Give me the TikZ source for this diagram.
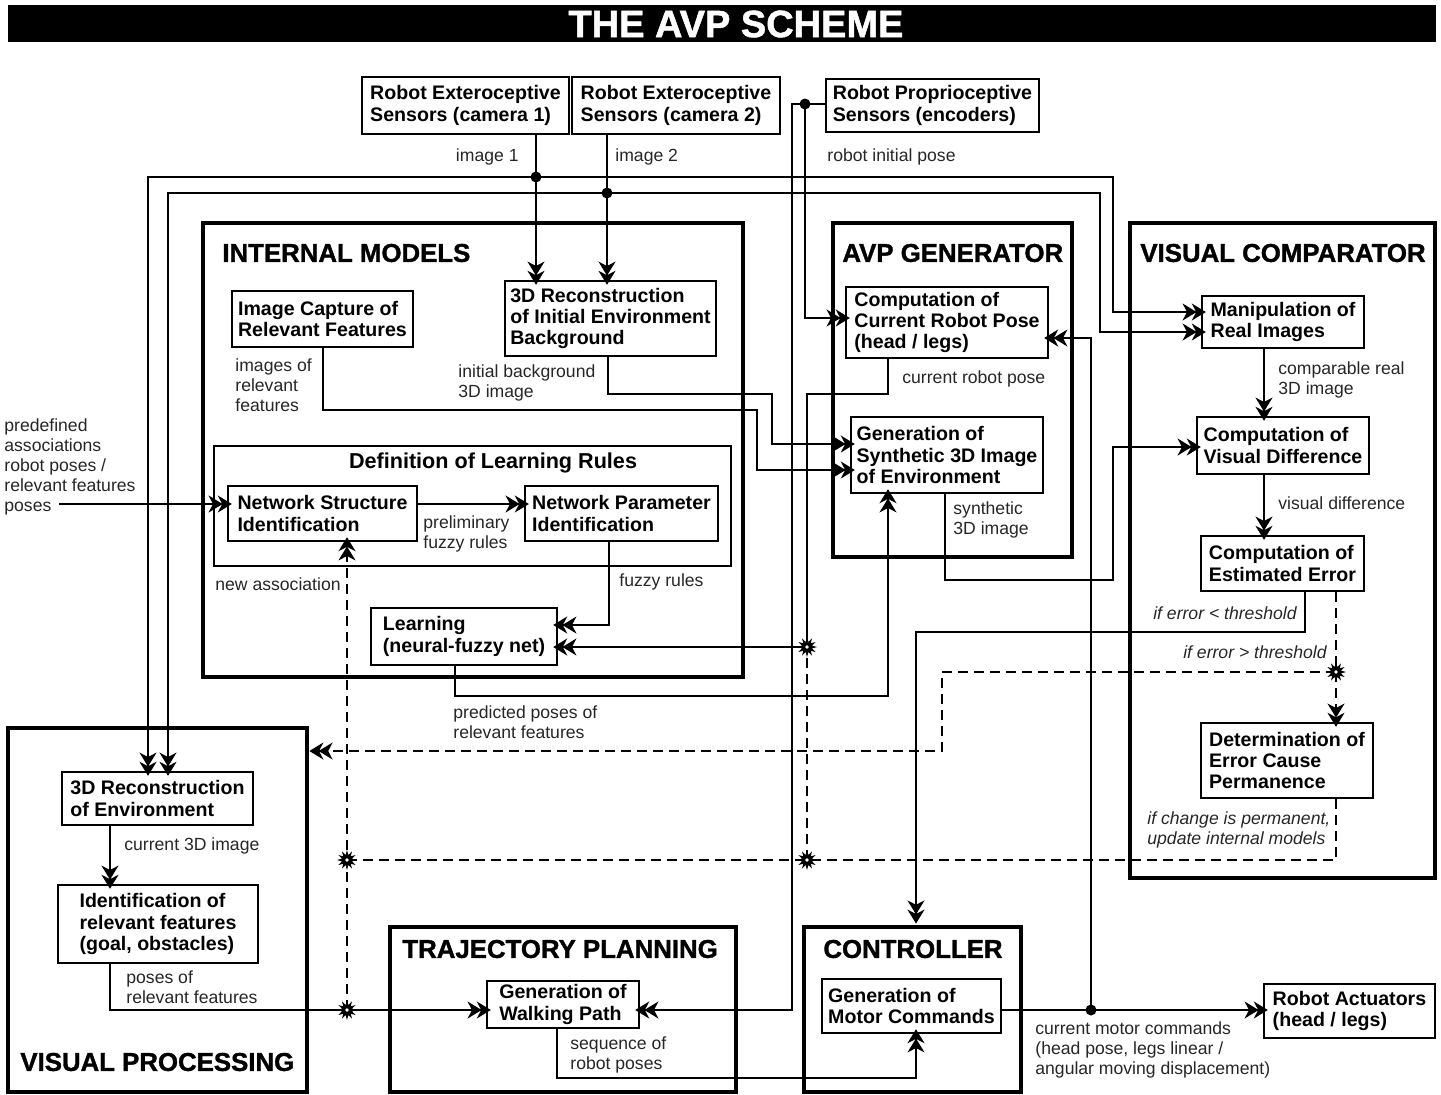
\documentclass[tikz,border=0pt]{standalone}
\usepackage{fontspec}
\setmainfont{Liberation Sans}
\newfontfamily\heavyfont[FakeBold=1.3]{Liberation Sans Bold}
\usetikzlibrary{arrows.meta,shapes.geometric}

\tikzset{
  dbl/.tip={Stealth[length=7pt,width=8.5pt,inset=2.2pt,sep=-2.4pt]Stealth[length=7pt,width=8.5pt,inset=2.2pt,sep=-2.4pt]},
  ln/.style={line width=0.9pt},
  arr/.style={ln,-{dbl}},
  darr/.style={ln,{dbl}-{dbl}},
  dsh/.style={ln,dash pattern=on 5pt off 3pt},
  wh/.style 2 args={minimum width=#1*0.5pt,minimum height=#2*0.5pt},
  blk/.style={draw,line width=1pt,align=left,inner sep=2pt,font=\fontsize{9.8}{10.6}\selectfont\bfseries},
  grp/.style={draw,line width=2.2pt,inner sep=0pt},
  ttl/.style={anchor=west,inner sep=0pt,font=\fontsize{12.9}{15}\selectfont\heavyfont},
  lbl/.style={align=left,inner sep=0pt,text=black!85,font=\fontsize{8.8}{9.9}\selectfont},
  ilbl/.style={lbl,font=\fontsize{8.8}{9.9}\selectfont\itshape},
  jdot/.style={circle,fill,inner sep=0pt,minimum size=5.5pt},
  jstar/.style={star,star points=12,star point ratio=1.9,fill,inner sep=0pt,minimum size=10pt,
    path picture={\fill[white] (path picture bounding box.center) circle (0.9pt);}},
}

\begin{document}
\begin{tikzpicture}[x=0.5pt,y=0.5pt,yscale=-1,xscale=1]
\useasboundingbox (0,0) rectangle (1441,1094);

% Title bar
\node[fill=black,wh={1428}{37},inner sep=0pt] (bar) at (722,23.5) {};
\node[text=white,font=\fontsize{19}{22}\selectfont\heavyfont,inner sep=0pt] (head) at (736,24) {THE AVP SCHEME};

% Groups
\node[grp,wh={540}{454}] (gIM) at (473,450) {};
\node[grp,wh={239}{334}] (gAVP) at (952.5,390) {};
\node[grp,wh={305}{655}] (gVC) at (1282.5,550.5) {};
\node[grp,wh={299}{364}] (gVP) at (157.5,910) {};
\node[grp,wh={346}{165}] (gTP) at (563,1009.5) {};
\node[grp,wh={217}{165}] (gCT) at (912.5,1009.5) {};
\node[draw,line width=0.9pt,wh={517}{120}] (gDef) at (472.5,506) {};

% Group titles
\node[ttl] (tIM) at (222,253) {INTERNAL MODELS};
\node[ttl] (tAVP) at (842,253) {AVP GENERATOR};
\node[ttl] (tVC) at (1140,253) {VISUAL COMPARATOR};
\node[ttl] (tVP) at (20,1062) {VISUAL PROCESSING};
\node[ttl] (tTP) at (402,949) {TRAJECTORY PLANNING};
\node[ttl] (tCT) at (823,949) {CONTROLLER};
\node[font=\fontsize{10.8}{12}\selectfont\bfseries,inner sep=0pt] (tDef) at (493,463) {Definition of Learning Rules};

% Blocks
\node[blk,wh={207}{57}] (cam1) at (465.5,105.5) {Robot Exteroceptive\\Sensors (camera 1)};
\node[blk,wh={208}{57}] (cam2) at (676,105.5) {Robot Exteroceptive\\Sensors (camera 2)};
\node[blk,wh={213}{53}] (prop) at (932.5,105.5) {Robot Proprioceptive\\Sensors (encoders)};
\node[blk,wh={181}{56}] (capt) at (322.5,319) {Image Capture of\\Relevant Features};
\node[blk,wh={211}{75}] (recI) at (610.5,318.5) {3D Reconstruction\\of Initial Environment\\Background};
\node[blk,wh={189}{55}] (nsi) at (322.5,513.5) {Network Structure\\Identification};
\node[blk,wh={193}{55}] (npi) at (621.5,513.5) {Network Parameter\\Identification};
\node[blk,wh={186}{57}] (lrn) at (464,636.5) {Learning\\(neural-fuzzy net)};
\node[blk,wh={202}{71}] (cpose) at (947,322.5) {Computation of\\Current Robot Pose\\(head / legs)};
\node[blk,wh={192}{76}] (synt) at (947,455) {Generation of\\Synthetic 3D Image\\of Environment};
\node[blk,wh={162}{52}] (manip) at (1283,322) {Manipulation of\\Real Images};
\node[blk,wh={172}{57}] (vdiff) at (1283,445.5) {Computation of\\Visual Difference};
\node[blk,wh={163}{55}] (eerr) at (1282.5,563.5) {Computation of\\Estimated Error};
\node[blk,wh={172}{75}] (ecause) at (1287,760.5) {Determination of\\Error Cause\\Permanence};
\node[blk,wh={191}{53}] (rEnv) at (157.5,798.5) {3D Reconstruction\\of Environment};
\node[blk,wh={200}{78}] (ident) at (158,924) {Identification of\\relevant features\\(goal, obstacles)};
\node[blk,wh={152}{47}] (walk) at (563,1004.5) {Generation of\\Walking Path};
\node[blk,wh={179}{54}] (motor) at (911.5,1006) {Generation of\\Motor Commands};
\node[blk,wh={171}{54}] (act) at (1349.5,1011) {Robot Actuators\\(head / legs)};

% Routing points
\coordinate (j1) at (536,177);
\coordinate (j2) at (607,193);
\coordinate (a1) at (148,177);
\coordinate (a2) at (1113,177);
\coordinate (a3) at (1113,312);
\coordinate (b1) at (168,193);
\coordinate (b2) at (1100,193);
\coordinate (b3) at (1100,332);
\coordinate (p1) at (805,104);
\coordinate (p2) at (792,104);
\coordinate (p3) at (805,318);
\coordinate (c1) at (888,394);
\coordinate (c2) at (807,394);
\coordinate (s1) at (807,647);
\coordinate (s2) at (807,860);
\coordinate (s3) at (347,860);
\coordinate (s4) at (347,1010);
\coordinate (s5) at (1336,672);
\coordinate (g1) at (323,410);
\coordinate (g2) at (757,410);
\coordinate (g3) at (757,470);
\coordinate (h1) at (608,394);
\coordinate (h2) at (772,394);
\coordinate (h3) at (772,444);
\coordinate (y1) at (945,580);
\coordinate (y2) at (1113,580);
\coordinate (y3) at (1113,447);
\coordinate (l1) at (455,696);
\coordinate (l2) at (888,696);
\coordinate (n0) at (59,504);
\coordinate (f1) at (609,625);
\coordinate (v1) at (110,1010);
\coordinate (w1) at (557,1078);
\coordinate (w2) at (916,1078);
\coordinate (e1) at (1305,632);
\coordinate (e2) at (916,632);
\coordinate (d1) at (942,672);
\coordinate (d2) at (942,751);
\coordinate (u1) at (1336,860);
\coordinate (vx) at (1264,400);
\coordinate (jm) at (1091,1010);
\coordinate (m2) at (1091,338);

% Connectors
\draw[arr] (cam1.south -| j1) -- (recI.north -| j1);
\draw[arr] (cam2.south -| j2) -- (recI.north -| j2);
\draw[darr] (rEnv.north -| a1) -- (a1) -- (a2) -- (a3) -- (manip.west |- a3);
\draw[darr] (rEnv.north -| b1) -- (b1) -- (b2) -- (b3) -- (manip.west |- b3);
\draw[arr] (prop.west |- p1) -- (p2) -- (p2 |- s4) -- (walk.east |- s4);
\draw[arr] (p1) -- (p3) -- (cpose.west |- p3);
\draw[arr] (cpose.south -| c1) -- (c1) -- (c2) -- (s1) -- (lrn.east |- s1);
\draw[dsh] (s2) -- (s1);
\draw[arr] (capt.south -| g1) -- (g1) -- (g2) -- (g3) -- (synt.west |- g3);
\draw[arr] (recI.south -| h1) -- (h1) -- (h2) -- (h3) -- (synt.west |- h3);
\draw[arr] (synt.south -| y1) -- (y1) -- (y2) -- (y3) -- (vdiff.west |- y3);
\draw[arr] (lrn.south -| l1) -- (l1) -- (l2) -- (synt.south -| l2);
\draw[arr] (n0) -- (nsi.west |- n0);
\draw[arr] (nsi.east |- n0) -- (npi.west |- n0);
\draw[arr] (npi.south -| f1) -- (f1) -- (lrn.east |- f1);
\draw[arr] (manip.south -| vx) -- (vdiff.north -| vx);
\draw[arr] (vdiff.south -| vx) -- (eerr.north -| vx);
\draw[arr,shorten >=3pt] (eerr.south -| e1) -- (e1) -- (e2) -- (gCT.north -| e2);
\draw[dsh,arr] (eerr.south -| s5) -- (s5) -- (ecause.north -| s5);
\draw[dsh,arr,shorten >=2.5pt] (s5) -- (d1) -- (d2) -- (gVP.east |- d2);
\draw[dsh] (ecause.south -| u1) -- (u1) -- (s3);
\draw[dsh,arr] (s4) -- (s3) -- (nsi.south -| s3);
\draw[arr] (rEnv.south -| v1) -- (ident.north -| v1);
\draw[arr] (ident.south -| v1) -- (v1) -- (walk.west |- v1);
\draw[arr] (walk.south -| w1) -- (w1) -- (w2) -- (motor.south -| w2);
\draw[arr] (motor.east |- jm) -- (act.west |- jm);
\draw[arr] (jm) -- (m2) -- (cpose.east |- m2);

% Junctions
\foreach \k in {j1,j2,p1,jm} \node[jdot] (dot-\k) at (\k) {};
\foreach \k in {s1,s2,s3,s4,s5} \node[jstar] (star-\k) at (\k) {};

% Text Nodes
\node[lbl,anchor=east] (limg1) at (519,157) {image 1};
\node[lbl,anchor=west] (limg2) at (615,157) {image 2};
\node[lbl,anchor=west] (lrip) at (827,157) {robot initial pose};
\node[lbl,anchor=west] (lirf) at (235,385) {images of\\relevant\\features};
\node[lbl,anchor=west] (libg) at (458,383) {initial background\\3D image};
\node[lbl,anchor=west] (lpfr) at (423,534) {preliminary\\fuzzy rules};
\node[lbl,anchor=west] (lnas) at (215,584) {new association};
\node[lbl,anchor=west] (lfr) at (619,582) {fuzzy rules};
\node[lbl,anchor=west] (lpp) at (453,722) {predicted poses of\\relevant features};
\node[lbl,anchor=west] (lcrp) at (902,379) {current robot pose};
\node[lbl,anchor=west] (ls3d) at (953,520) {synthetic\\3D image};
\node[lbl,anchor=west] (lcr3) at (1278,380) {comparable real\\3D image};
\node[lbl,anchor=west] (lvd) at (1278,503) {visual difference};
\node[ilbl,anchor=east] (llt) at (1297,613) {if error < threshold};
\node[ilbl,anchor=east] (lgt) at (1327,652) {if error > threshold};
\node[ilbl,anchor=west] (lchg) at (1147,830) {if change is permanent,\\update internal models};
\node[lbl,anchor=west] (lc3d) at (124,846) {current 3D image};
\node[lbl,anchor=west] (lprf) at (126,987) {poses of\\relevant features};
\node[lbl,anchor=west] (lsrp) at (570,1055) {sequence of\\robot poses};
\node[lbl,anchor=west] (lcmc) at (1035,1050) {current motor commands\\(head pose, legs linear /\\angular moving displacement)};
\node[lbl,anchor=west] (lpre) at (4,467) {predefined\\associations\\robot poses /\\relevant features\\poses};
\end{tikzpicture}
\end{document}
